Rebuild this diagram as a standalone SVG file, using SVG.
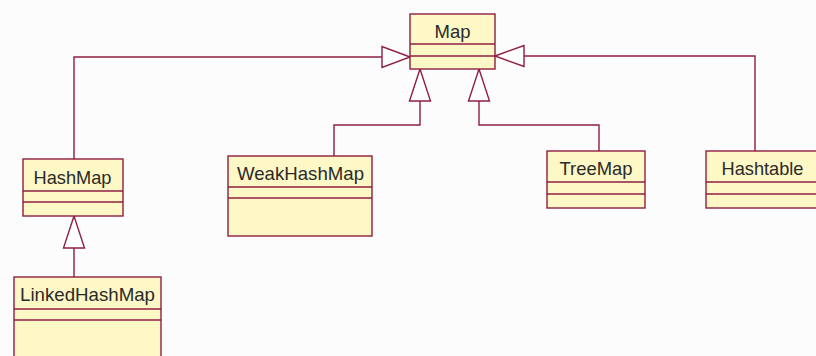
<svg xmlns="http://www.w3.org/2000/svg" width="816" height="356" viewBox="0 0 816 356">
<style>
.box{fill:#fdf8c6;stroke:#8e1f40;stroke-width:1.4}
.div{stroke:#8e1f40;stroke-width:1.4;fill:none}
.lbl{font-family:"Liberation Sans",Arial,sans-serif;font-size:19px;fill:#2a2a2a;text-anchor:middle}
.ln{stroke:#8e1f40;stroke-width:1.4;fill:none}
.tri{fill:#ffffff;stroke:#8e1f40;stroke-width:1.4}
</style>
<rect width="816" height="356" fill="#fcfcfc"/>
<g id="connectors">
<polyline class="ln" points="74,159 74,57 382,57"/>
<path class="tri" d="M410,57 L382,46.5 L382,67.5 Z"/>
<polyline class="ln" points="755,151 755,56 524,56"/>
<path class="tri" d="M495,56 L524,45.5 L524,66.5 Z"/>
<polyline class="ln" points="334,156 334,125 420,125 420,101"/>
<path class="tri" d="M420,69 L409.5,101 L430.5,101 Z"/>
<polyline class="ln" points="599,151 599,125 479,125 479,101"/>
<path class="tri" d="M479,69 L468.5,101 L489.5,101 Z"/>
<line class="ln" x1="74" y1="277" x2="74" y2="248"/>
<path class="tri" d="M74,216 L63.5,248 L84.5,248 Z"/>
</g>
<g id="Map">
<rect class="box" x="410" y="14" width="85" height="55"/>
<path class="div" d="M410,44H495M410,56H495"/>
<text class="lbl" x="452.5" y="37.5" textLength="36" lengthAdjust="spacingAndGlyphs">Map</text>
</g>
<g id="HashMap">
<rect class="box" x="23" y="159" width="100" height="57"/>
<path class="div" d="M23,191H123M23,202H123"/>
<text class="lbl" x="72.5" y="183.5" textLength="78" lengthAdjust="spacingAndGlyphs">HashMap</text>
</g>
<g id="LinkedHashMap">
<rect class="box" x="14" y="277" width="147" height="100"/>
<path class="div" d="M14,309H161M14,320H161"/>
<text class="lbl" x="87.5" y="301" textLength="135" lengthAdjust="spacingAndGlyphs">LinkedHashMap</text>
</g>
<g id="WeakHashMap">
<rect class="box" x="228" y="156" width="144" height="80"/>
<path class="div" d="M228,187H372M228,198H372"/>
<text class="lbl" x="300.5" y="179.5" textLength="127" lengthAdjust="spacingAndGlyphs">WeakHashMap</text>
</g>
<g id="TreeMap">
<rect class="box" x="547" y="151" width="98" height="57"/>
<path class="div" d="M547,182H645M547,194H645"/>
<text class="lbl" x="596" y="175" textLength="73" lengthAdjust="spacingAndGlyphs">TreeMap</text>
</g>
<g id="Hashtable">
<rect class="box" x="706" y="151" width="120" height="57"/>
<path class="div" d="M706,182H826M706,194H826"/>
<text class="lbl" x="762.5" y="175" textLength="82" lengthAdjust="spacingAndGlyphs">Hashtable</text>
</g>
</svg>
